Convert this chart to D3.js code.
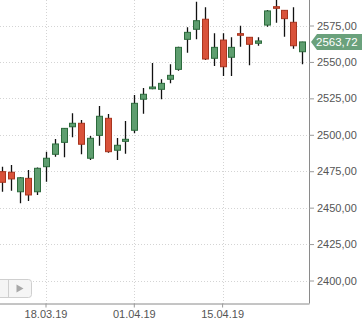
<!DOCTYPE html>
<html>
<head>
<meta charset="utf-8">
<script src="https://cdn.jsdelivr.net/npm/d3@7"></script>
<style>
  body { margin: 0; background: #fff; }
  svg { display: block; font-family: "Liberation Sans", Arial, sans-serif; }
</style>
</head>
<body>
<div id="chart"></div>
<script>
// trading days shown (first one is cut at the left edge)
var dates = ["11.03.19","12.03.19","13.03.19","14.03.19","15.03.19",
  "18.03.19","19.03.19","20.03.19","21.03.19","22.03.19",
  "25.03.19","26.03.19","27.03.19","28.03.19","29.03.19",
  "01.04.19","02.04.19","03.04.19","04.04.19","05.04.19",
  "08.04.19","09.04.19","10.04.19","11.04.19","12.04.19",
  "15.04.19","16.04.19","17.04.19","18.04.19","19.04.19",
  "22.04.19","23.04.19","24.04.19","25.04.19","26.04.19"];
var opens  = [2474.7,2474.3,2460.9,2470.1,2460.9, 2478.1,2486.6,2494.8,2505.5,2507.9,
              2483.9,2499.6,2511.3,2489.4,2495.5, 2503.1,2524.4,2531.6,2531.2,2538.1,
              2544.9,2565.5,2572.4,2579.3,2552.5, 2565.0,2553.2,2569.4,2566.9,2562.8,
              2575.3,2587.9,2585.4,2577.2,2557.0];
var highs  = [2478.0,2479.3,2471.0,2475.8,2477.5, 2488.4,2497.1,2504.6,2514.7,2510.1,
              2499.2,2519.8,2514.3,2497.8,2509.5, 2527.3,2532.1,2549.3,2538.1,2548.4,
              2560.5,2573.8,2591.3,2587.5,2569.6, 2569.6,2566.9,2574.9,2567.0,2566.9,
              2585.6,2594.0,2585.5,2587.5,2563.8];
var lows   = [2460.9,2461.6,2453.0,2454.6,2458.7, 2467.8,2485.0,2484.5,2498.3,2486.6,
              2482.7,2492.5,2487.7,2482.7,2487.0, 2501.0,2514.5,2531.2,2524.4,2535.3,
              2544.0,2556.3,2565.5,2551.3,2547.2, 2540.3,2540.3,2560.5,2547.7,2561.1,
              2574.2,2576.9,2567.3,2559.1,2548.4];
var closes = [2467.4,2469.7,2470.5,2458.7,2477.0, 2483.9,2493.7,2504.4,2507.9,2493.5,
              2497.6,2512.7,2488.4,2492.8,2496.9, 2521.6,2527.8,2532.8,2535.3,2540.8,
              2560.0,2570.3,2578.3,2552.0,2560.0, 2546.7,2560.0,2568.3,2562.1,2564.4,
              2585.0,2586.8,2579.7,2561.1,2563.72];
var yTicks = [2400,2425,2450,2475,2500,2525,2550,2575];
var xTicks = ["18.03.19","01.04.19","15.04.19"];
var lastPrice = 2563.72;

var width = 362, height = 321;
var plotRight = 309, plotBottom = 303.5;
var step = 8.83;

var fmt = function(v) { return d3.format(".2f")(v).replace(".", ","); };

var data = dates.map(function(d, i) {
  return {date: d, open: opens[i], high: highs[i], low: lows[i], close: closes[i]};
});

var svg = d3.select("#chart").append("svg")
  .attr("width", width)
  .attr("height", height);

var x = d3.scaleBand()
  .domain(dates)
  .range([46 - 5.5 * step, 46 + (dates.length - 5.5) * step])
  .padding(0);

var y = d3.scaleLinear()
  .domain([2400, 2575])
  .range([280.5, 25.5]);

function cx(d) { return x(d) + x.bandwidth() / 2; }

svg.append("defs").append("clipPath")
  .attr("id", "plotclip")
  .append("rect")
  .attr("x", 0).attr("y", 0)
  .attr("width", plotRight).attr("height", plotBottom);

//grid
var grid = svg.append("g").attr("class", "grid");
grid.selectAll("line.h")
  .data(yTicks)
  .enter().append("line")
  .attr("x1", 0).attr("x2", plotRight)
  .attr("y1", function(d){ return Math.round(y(d)) + 0.5; })
  .attr("y2", function(d){ return Math.round(y(d)) + 0.5; })
  .attr("stroke", "#d4d4d4")
  .attr("stroke-dasharray", "1,2");
grid.selectAll("line.v")
  .data(xTicks)
  .enter().append("line")
  .attr("x1", function(d){ return Math.round(cx(d)) + 0.5; })
  .attr("x2", function(d){ return Math.round(cx(d)) + 0.5; })
  .attr("y1", 0).attr("y2", plotBottom)
  .attr("stroke", "#d4d4d4")
  .attr("stroke-dasharray", "1,2");

//candles
var candles = svg.append("g")
  .attr("clip-path", "url(#plotclip)")
  .selectAll("g")
  .data(data)
  .enter().append("g");

candles.append("line")
  .attr("x1", function(d){ return Math.round(cx(d.date)) + 0.5; })
  .attr("x2", function(d){ return Math.round(cx(d.date)) + 0.5; })
  .attr("y1", function(d){ return y(d.high); })
  .attr("y2", function(d){ return y(d.low); })
  .attr("stroke", "#111")
  .attr("stroke-width", 1.3);

candles.append("rect")
  .attr("x", function(d){ return Math.round(cx(d.date)) - 2.5; })
  .attr("width", 6)
  .attr("y", function(d){ return y(Math.max(d.open, d.close)); })
  .attr("height", function(d){ return Math.max(1.5, Math.abs(y(d.open) - y(d.close))); })
  .attr("fill", function(d){ return d.close >= d.open ? "#5e9e6f" : "#d9523a"; })
  .attr("stroke", function(d){ return d.close >= d.open ? "#2c6a3c" : "#a8351f"; })
  .attr("stroke-width", 1);

//axes
var yAxis = svg.append("g")
  .attr("transform", "translate(" + plotRight + ",0)")
  .call(d3.axisRight(y).tickValues(yTicks).tickSize(5).tickPadding(3).tickFormat(fmt));
yAxis.select(".domain").attr("stroke", "#8a8a8a").attr("d", "M0.5,0V" + plotBottom);
yAxis.selectAll(".tick line").attr("stroke", "#9a9a9a");
yAxis.selectAll(".tick text")
  .attr("fill", "#555")
  .style("font-size", "11px");

var xAxis = svg.append("g")
  .attr("transform", "translate(0," + plotBottom + ")")
  .call(d3.axisBottom(x).tickValues(xTicks).tickSize(4).tickPadding(3));
xAxis.select(".domain").attr("stroke", "#8a8a8a").attr("d", "M0,0.5H" + (plotRight + 0.5));
xAxis.selectAll(".tick line").attr("stroke", "#9a9a9a");
xAxis.selectAll(".tick text")
  .attr("fill", "#555")
  .style("font-size", "11px");

//last price tag
var ty = y(lastPrice);
var tag = svg.append("g");
tag.append("path")
  .attr("d", "M" + (plotRight + 2) + "," + ty +
    "L" + (plotRight + 8) + "," + (ty - 8) +
    "H" + width + "V" + (ty + 8) +
    "H" + (plotRight + 8) + "Z")
  .attr("fill", "#6aa17c");
tag.append("text")
  .attr("x", plotRight + 7)
  .attr("y", ty + 4)
  .attr("fill", "#fff")
  .style("font-size", "11.5px")
  .text(fmt(lastPrice));

//navigation buttons
var nav = svg.append("g");
nav.append("rect")
  .attr("x", -30).attr("y", 279.5)
  .attr("width", 61.5).attr("height", 18)
  .attr("rx", 3)
  .attr("fill", "#f5f5f5")
  .attr("stroke", "#cfcfcf");
nav.append("line")
  .attr("x1", 8.5).attr("x2", 8.5)
  .attr("y1", 279.5).attr("y2", 297.5)
  .attr("stroke", "#cfcfcf");
nav.append("path")
  .attr("d", "M16.5,284.5L23.5,288.5L16.5,292.5Z")
  .attr("fill", "#a8a8a8");
</script>
</body>
</html>
